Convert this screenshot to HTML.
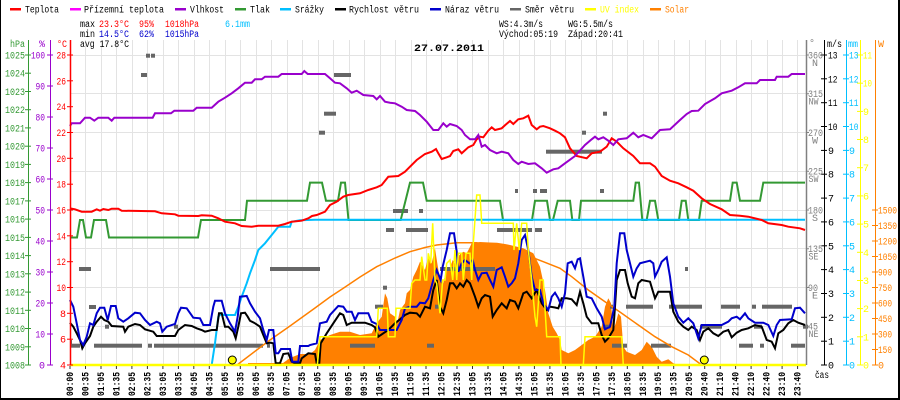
<!DOCTYPE html>
<html><head><meta charset="utf-8">
<style>
html,body{margin:0;padding:0;background:#fff;}
svg{display:block;}
text{font-family:"Liberation Mono","DejaVu Sans Mono",monospace;font-size:10px;}
.b{font-weight:bold;}
</style></head><body>
<svg width="900" height="400" viewBox="0 0 900 400" xmlns="http://www.w3.org/2000/svg">
<rect x="0" y="0" width="900" height="400" fill="#fff"/>
<!-- border -->
<rect x="0" y="0" width="1" height="400" fill="#000"/>
<rect x="898" y="0" width="2" height="400" fill="#000"/>
<rect x="0" y="398" width="900" height="2" fill="#000"/>

<!-- grid -->
<g stroke="#e3e3e3" stroke-width="1">
<line x1="70" y1="55.5" x2="806" y2="55.5"/>
<line x1="70" y1="93.5" x2="806" y2="93.5"/>
<line x1="70" y1="132.5" x2="806" y2="132.5"/>
<line x1="70" y1="171.5" x2="806" y2="171.5"/>
<line x1="70" y1="210.5" x2="806" y2="210.5"/>
<line x1="70" y1="248.5" x2="806" y2="248.5"/>
<line x1="70" y1="287.5" x2="806" y2="287.5"/>
<line x1="70" y1="326.5" x2="806" y2="326.5"/>
<line x1="85.5" y1="40" x2="85.5" y2="365"/><line x1="101.5" y1="40" x2="101.5" y2="365"/><line x1="116.5" y1="40" x2="116.5" y2="365"/><line x1="132.5" y1="40" x2="132.5" y2="365"/><line x1="147.5" y1="40" x2="147.5" y2="365"/><line x1="163.5" y1="40" x2="163.5" y2="365"/><line x1="178.5" y1="40" x2="178.5" y2="365"/><line x1="194.5" y1="40" x2="194.5" y2="365"/><line x1="209.5" y1="40" x2="209.5" y2="365"/><line x1="225.5" y1="40" x2="225.5" y2="365"/><line x1="240.5" y1="40" x2="240.5" y2="365"/><line x1="256.5" y1="40" x2="256.5" y2="365"/><line x1="271.5" y1="40" x2="271.5" y2="365"/><line x1="287.5" y1="40" x2="287.5" y2="365"/><line x1="302.5" y1="40" x2="302.5" y2="365"/><line x1="318.5" y1="40" x2="318.5" y2="365"/><line x1="333.5" y1="40" x2="333.5" y2="365"/><line x1="349.5" y1="40" x2="349.5" y2="365"/><line x1="364.5" y1="40" x2="364.5" y2="365"/><line x1="380.5" y1="40" x2="380.5" y2="365"/><line x1="395.5" y1="40" x2="395.5" y2="365"/><line x1="411.5" y1="40" x2="411.5" y2="365"/><line x1="426.5" y1="40" x2="426.5" y2="365"/><line x1="441.5" y1="40" x2="441.5" y2="365"/><line x1="457.5" y1="40" x2="457.5" y2="365"/><line x1="472.5" y1="40" x2="472.5" y2="365"/><line x1="488.5" y1="40" x2="488.5" y2="365"/><line x1="503.5" y1="40" x2="503.5" y2="365"/><line x1="519.5" y1="40" x2="519.5" y2="365"/><line x1="534.5" y1="40" x2="534.5" y2="365"/><line x1="550.5" y1="40" x2="550.5" y2="365"/><line x1="565.5" y1="40" x2="565.5" y2="365"/><line x1="581.5" y1="40" x2="581.5" y2="365"/><line x1="596.5" y1="40" x2="596.5" y2="365"/><line x1="612.5" y1="40" x2="612.5" y2="365"/><line x1="627.5" y1="40" x2="627.5" y2="365"/><line x1="643.5" y1="40" x2="643.5" y2="365"/><line x1="658.5" y1="40" x2="658.5" y2="365"/><line x1="674.5" y1="40" x2="674.5" y2="365"/><line x1="689.5" y1="40" x2="689.5" y2="365"/><line x1="705.5" y1="40" x2="705.5" y2="365"/><line x1="720.5" y1="40" x2="720.5" y2="365"/><line x1="736.5" y1="40" x2="736.5" y2="365"/><line x1="751.5" y1="40" x2="751.5" y2="365"/><line x1="767.5" y1="40" x2="767.5" y2="365"/><line x1="782.5" y1="40" x2="782.5" y2="365"/><line x1="797.5" y1="40" x2="797.5" y2="365"/>
</g>

<!-- solar fill -->
<polygon fill="#ff8000" points="248,365 248,363 283,363 290,358 300,354 310,354 315,350 320,340 330,335 340,331.7 350,331.7 360,335 371.7,333.3 376.7,323.3 381.7,316.7 385,293.3 387.3,298.3 390,313.3 395,316.7 397.3,323.3 400,310 405,303.3 406.7,293.3 410,290 413.3,276.7 416.7,270 420,261.7 425,270 428.3,256.7 431.7,263.3 435,248.3 437.3,263.3 440,280 443.3,283.3 446.7,266.7 449.3,270 452.7,260 456,265 459.3,255 463.3,251.7 466.7,253.3 469.3,248.3 471.7,243.3 475,242.7 480,242 490,242.5 497,242.7 505,244 510,245 523.3,248.3 533.3,253.3 540,266.7 545,290 548.3,313.3 552.7,326.7 556.7,333.3 560,340 561.7,350 568.3,353.3 575,350 581.7,345 588.3,340 595,336.7 601.7,326.7 605,306.7 608.3,298.3 611,303.3 613.3,330 615.7,323.3 618.3,313.3 621,316.7 623.3,346.7 626.7,351.7 635,355 641.7,350 646.7,341.7 651.7,346.7 656.7,356.7 661.7,361.7 668.3,359.3 673.3,363.3 678.3,365"/>

<!-- wind direction blocks -->
<g fill="#666">
<rect x="146" y="53.7" width="4" height="4"/><rect x="151" y="53.7" width="4" height="4"/>
<rect x="141" y="73" width="6" height="4"/>
<rect x="79" y="267" width="12" height="4"/>
<rect x="89" y="305" width="7" height="4"/>
<rect x="105" y="324.7" width="4" height="4"/>
<rect x="174" y="324.7" width="4" height="4"/>
<rect x="70" y="340" width="2" height="4"/>
<rect x="70" y="343.7" width="10" height="4"/>
<rect x="94" y="343.7" width="48" height="4"/>
<rect x="148" y="343.7" width="4" height="4"/>
<rect x="154" y="343.7" width="109" height="4"/>
<rect x="267" y="343.7" width="3" height="4"/>
<rect x="270" y="267" width="50" height="4"/>
<rect x="334" y="73" width="17" height="4"/>
<rect x="324" y="111.7" width="12" height="4"/>
<rect x="319" y="130.7" width="6" height="4"/>
<rect x="393" y="209" width="15" height="4"/>
<rect x="419" y="209" width="4" height="4"/>
<rect x="386" y="228" width="8" height="4"/>
<rect x="406" y="228" width="22" height="4"/>
<rect x="383" y="285.7" width="4" height="4"/>
<rect x="375" y="304.7" width="8" height="4"/>
<rect x="350" y="343.7" width="25" height="4"/>
<rect x="427" y="343.7" width="7" height="4"/>
<rect x="435" y="304.7" width="5" height="4"/>
<rect x="440" y="267" width="55" height="4"/>
<rect x="497" y="228" width="35" height="4"/>
<rect x="535" y="228" width="7" height="4"/>
<rect x="515" y="189" width="3" height="4"/>
<rect x="533" y="189" width="4" height="4"/>
<rect x="540" y="189" width="7" height="4"/>
<rect x="546" y="149.7" width="56" height="4"/>
<rect x="603" y="111.7" width="4" height="4"/>
<rect x="582" y="130.7" width="4" height="4"/>
<rect x="600" y="189" width="4" height="4"/>
<rect x="685" y="267" width="3" height="4"/>
<rect x="610" y="304.7" width="3" height="4"/>
<rect x="626" y="304.7" width="27" height="4"/>
<rect x="669" y="304.7" width="33" height="4"/>
<rect x="721" y="304.7" width="19" height="4"/>
<rect x="752" y="304.7" width="4" height="4"/>
<rect x="762" y="304.7" width="30" height="4"/>
<rect x="603" y="324.7" width="7" height="4"/>
<rect x="700" y="324.7" width="22" height="4"/>
<rect x="754" y="324.7" width="8" height="4"/>
<rect x="803" y="324.7" width="5" height="4"/>
<rect x="612" y="343.7" width="15" height="4"/>
<rect x="651" y="343.7" width="20" height="4"/>
<rect x="739" y="343.7" width="14" height="4"/>
<rect x="760" y="343.7" width="4" height="4"/>
<rect x="791" y="343.7" width="14" height="4"/>
</g>

<!-- solar theoretical curve -->
<polyline fill="none" stroke="#ff8000" stroke-width="1.5" points="237,365 270,340 290,326 315,308 330,297 343.3,288.3 360,277 376.7,266.7 395,258 410,251.7 425,247.5 436.7,245 456.7,242.7 476.7,242.7 496.7,246.7 510,250 523.3,254 543.3,261.7 560,268.3 571.7,276.7 588.3,290 605,301.7 621.7,313.3 638.3,325 655,336.7 671.7,346.7 688.3,355 701.7,365"/>

<!-- pressure -->
<polyline fill="none" stroke="#339933" stroke-width="2" points="70,237.5 77,237.5 80,220 83,220 86,237.5 91,237.5 94,220 106,220 109,237.5 198,237.5 201,220 245,220 247,200.8 307,200.8 310,182.6 322,182.6 326,200.8 338,200.8 341,182.6 345,182.6 348.5,220 400.7,220 410,182.6 423,182.6 426.7,200.8 500,200.8 503,220 532,220 535,200.8 547,200.8 550,220 553,220 557.7,200.8 570,200.8 572.3,220 579,220 581,200.8 633.3,200.8 635.7,182.6 639,182.6 642.3,220 646.7,220 650,200.8 655,200.8 658.3,220 679,220 681.7,200.8 685.7,200.8 688.3,220 699,220 701.7,200.8 730,200.8 732.7,182.6 736.7,182.6 740,200.8 760,200.8 763.3,182.6 805,182.6"/>

<!-- rain -->
<polyline fill="none" stroke="#00bfff" stroke-width="2" points="70,365 211.7,365 215,343.3 218.3,316.7 221.7,313.3 223.3,315 235,315 238.3,306.7 241.7,296.7 246.7,283.3 250,273.3 255,260 258.3,250 265,243.3 271.7,235 278.3,226.7 290,226.7 291.7,221.7 300,220.3 315,219.7 805,219.7"/>

<!-- temperature -->
<polyline fill="none" stroke="#ff0000" stroke-width="2" points="70,208.3 75,209.3 81.7,211.7 91.7,211.7 96.7,209.3 100,210.7 103.3,209 108.3,210 111.7,208.7 118.3,208.7 121.7,210.7 155,211.3 161.7,213.3 175,214.3 178.3,215.7 198.3,216 201.7,215.3 211.7,215.7 218.3,218.3 225,221.7 235,223.3 241.7,226 251.7,226.7 258.3,225.7 278.3,225.7 285,224 291.7,221.7 301.7,220.7 308.3,218.3 312,216 316.7,215 325,211.7 330,205 336.7,201.7 343.3,196.7 348.3,195 360,193.3 368.3,190 376.7,187.3 381.7,185 388.3,176.7 398.3,176 405,171.7 410,166.7 416.7,160 425,154 431.7,151.7 436,149 438.3,153.3 441.7,159 446.7,157.3 450,156 453.3,151 458.3,149.3 461.7,153.3 468.3,147.3 473.3,145 476.7,139.3 480,136.7 483.3,137.3 488.3,130.7 491.7,127.3 495,130 501.7,128.3 505,125.3 510,121 513.3,124 518.3,119.3 523.3,118.3 528.3,115.7 531.7,125 536.7,129.3 540,126.7 543.3,126 550,128.3 555,130.7 560,133.3 565,137.3 570,148.3 576.7,156 586.7,158.3 591.7,153.3 600,151.7 606.7,146.7 611.7,138.3 616.7,141.7 623.3,148.3 633.3,156 640,163.3 650,163.3 655,166.7 661.7,176 670,180.7 678.3,183.3 686.7,187.3 693.3,190.7 701.7,198.3 710,204 721.7,209.3 730,215 740,215.7 748.3,216.7 761.7,220 768.3,223.3 781.7,225 788.3,226.7 800,228.3 805,230"/>

<!-- humidity -->
<polyline fill="none" stroke="#9900cc" stroke-width="2" points="70,126 71.7,123.3 80,123.3 85,117.7 90,117.7 94.3,120.7 98.3,117.7 108.3,117.7 111.7,120.7 114.3,117.7 152.7,117.7 155,113.3 171,113.3 174.3,110.7 193.3,110.7 196.7,107.7 211.7,107.7 218.3,101.7 225,97.7 231.7,93.3 238.3,88.3 245,82.7 251.7,82.7 255,79.3 261.7,79.3 265,76.7 278.3,76.7 281.7,74 301.7,74 304.3,71 307.7,74 325,74 330,78.3 335,82.7 340,83.3 346.7,88.3 351.7,92.7 356.7,90.7 363.3,95 373.3,96 376.7,99.3 380,96 385,101.7 390,102.7 395,103.3 401.7,106.7 406.7,110 415,111 420,115 426.7,121.7 433.3,130 438.3,130 443.3,123.3 446.7,126.7 450,124 456.7,126 461.7,130 465,135 470,139.3 475,139.3 478.3,135 481.7,146.7 485,145 490,150 496.7,153.3 501.7,151.7 508.3,153.3 513.3,160 518.3,164 521.7,161.7 528.3,164 535,163.3 541.7,168.3 546.7,172.7 553.3,169.3 558.3,168.3 565,163.3 575,156 585,145 591.7,139.3 595,136.7 598.3,139.3 603.3,137.3 608.3,140.7 613.3,145 618.3,139.3 626.7,138.3 633.3,132.7 638.3,137.3 643.3,135 651.7,138.3 660,130 670,129.3 680,120 686.7,114 691.7,111 698.3,110.7 705,104 715,98.3 721.7,93.3 731.7,90.7 738.3,87.3 745,83.3 756.7,83.3 760,80 775,80 776.7,76.7 788.3,76.7 791.7,74 805,74"/>

<!-- wind speed -->
<polyline fill="none" stroke="#000" stroke-width="2" points="70,322.7 73.3,326.7 76.7,333.3 80,340 82.3,348.3 85,343.3 90,336 93.3,326.7 96.7,321.7 101,316.7 104.3,320 108.3,321.7 111.7,326 123.3,326.7 125,331.7 128.3,326.7 135,324 140,325 145,329.3 153.3,331.7 156.7,336 175,336 178.3,330 185,325 191.7,326 196.7,328.3 201.7,330 205,331.7 211.7,330 216.7,330 219,313.3 221.7,313.3 225,326.7 228.3,326.7 233.3,331.7 235.7,338.3 238.3,326.7 241,313.3 245,312.7 247.7,316.7 250,320.7 255,323.3 260,326.7 263.3,335 266.7,343.3 270,342.7 273.3,343.3 275.7,363.3 280,363.3 283.3,354 288.3,353.3 291.7,361.7 295,363.3 300,363.3 301.7,358.3 308.3,353.3 315,354 316.7,363.3 319.3,363.3 320.7,343.3 326.7,333.3 333.3,323.3 340,313.3 343.3,315 346.7,325 351.7,322.7 365,322.7 371.7,325 375,327.3 378.3,336.7 383.3,333.3 388.3,330 395,323.3 400,319.3 405,315 410,312.7 416.7,313.3 420,316.7 425,306.7 430,308.3 433.3,290 436.7,280 440,306.7 443.3,313.3 446.7,300 450,283.3 453.3,283.3 456.7,288.3 460,283.3 463.3,286.7 466.7,280 470,283.3 475,296.7 478.3,306.7 481.7,298.3 485,295 490,296.7 492.7,316.7 496.7,310 501.7,303.3 506.7,308.3 510,300 515,301.7 518.3,308.3 523.3,293.3 526.7,291.7 531.7,298.3 536.7,290 541.7,303.3 546.7,310 550,306.7 555,307.5 558.3,308.3 561.7,298.3 566.7,298.3 571.7,299.3 576.7,305 580,291.7 583.3,303.3 586.7,316.7 591.7,323.3 598.3,323.3 601.7,335 605,341.7 608.3,338.3 613.3,330 615,306.7 616.7,280 620,270 625,270 627.7,283.3 631.7,296.7 635,298.3 638.3,283.3 641.7,280 650,281.7 655,298.3 658.3,291.7 670,291.7 673.3,311.7 678.3,321.7 683.3,326.7 688.3,330 691.7,326.7 696.7,330 700,340 703.3,331.7 708.3,328.3 713.3,333.3 718.3,336 723.3,331.7 728.3,330 731.7,337.3 736.7,332.7 741.7,330 748.3,328.3 755,325 761.7,326.7 766.7,340 771.7,341.7 775,348.3 778.3,333.3 783.3,330 788.3,323.3 793.3,320 798.3,322.7 805,325"/>

<!-- gust -->
<polyline fill="none" stroke="#0000cc" stroke-width="2" points="70,300 73.3,306.7 76.7,323.3 80,340 83.3,345 86.7,336.7 90,323.3 93.3,325 96.7,313.3 100,307.7 104.3,307.7 107.7,320 111,306 115.7,306 118.3,318.3 123.3,321.7 128.3,318.3 135,312.7 140,313.3 145,320 150,325 156.7,321.7 160,323.3 162.3,331.7 166.7,326.7 175,324 178.3,313.3 181,307.7 186.7,308.3 193.3,317.7 200,318.3 203.3,325 210,325 213.3,306.7 215,300.7 221.7,300.7 225,313.3 230,323.3 235,331.7 237.7,316.7 240,296.7 246.7,296 250,303.3 255,311.7 260,318.3 263.3,330 266.7,340 269,330 273.3,330 275.7,353.3 278.3,353.3 281,349 290,349 292.3,361.7 298.3,361.7 300,346 308.3,346 310,345 316.7,343.3 320,323.3 326.7,321.7 330,315 338.3,306 343.3,306.7 346.7,311.7 351.7,311.7 355,320 358.3,313.3 368.3,313.3 371.7,321.7 376.7,324 380,330 396.7,330 401.7,320 405,308.3 410,306.7 416.7,306.7 420,302.7 425,303.3 428.3,298.3 433.3,280 436.7,270 440.7,280 442.7,266.7 446.7,250 450,233.3 454,233.3 456.7,251.7 458.3,271.7 461.7,263.3 465,260 469.3,263.3 472.7,260 475,270 478.3,280 481.7,273.3 486.7,272.7 490,280 493.3,286.7 496.7,270 501.7,267.3 505,276.7 508.3,286.7 511.7,283.3 515,278.3 518.3,263.3 521.7,240 525,235 528.3,250 531.7,276.7 535,290 540,290 543.3,303.3 548.3,310 551.7,296.7 555,292.7 558.3,298.3 561.7,306.7 565,293.3 567.7,263.3 571.7,261.7 575,268.3 577.7,259.3 580,258.3 583.3,276.7 586.7,296.7 591.7,298.3 596.7,308.3 601.7,316.7 605,329.3 610,326.7 614.3,306.7 616.7,263.3 620,233.3 624.3,233.3 626.7,250 630,263.3 633.3,276.7 636.7,268.3 640,263.3 650,260.7 653.3,263.3 655,276.7 658.3,270 661.7,261.7 666.7,257.3 670,276.7 673.3,303.3 678.3,316.7 683.3,322.7 688.3,318.3 693.3,323.3 698.3,338.3 701.7,325 721.7,325 725,323.3 728.3,321.7 731.7,318.3 736.7,316.7 740,319.3 745,313.3 748.3,318.3 755,322.7 763.3,322.7 768.3,325 773.3,336 776.7,325 780,320 791.7,319.3 795,308.3 800,307.7 805,313.3"/>

<!-- UV -->
<polyline fill="none" stroke="#ffff00" stroke-width="1.5" points="70,365 317.3,365 320,336.7 376.7,336.7 378.3,308.3 387.3,308.3 388.3,336.7 395,336.7 396,308.3 410,308.3 411.7,283.3 415,280 420,280 421.7,256.7 425,280 426.7,280 428.3,253.3 430.7,263.3 432.7,223.3 435,280 436.7,283.3 440,313.3 442.7,280 445,280 446.7,263.3 450,260 452.7,280 455,250 456.7,280 458.3,253.3 461.7,253.3 463.3,280 466,253.3 470,253.3 471.7,280 473.3,243.3 476.7,195 480,195 481.7,223.3 513.3,223.3 514,250 516.7,223.3 519.3,250 521.7,223.3 526.7,223.3 528.3,250 531.7,280 535,316.7 536.7,326.7 540,280 543.3,280 546.7,336.7 560,336.7 561,365 583.3,365 585,336.7 621.7,336.7 623.3,365 805,365"/>

<!-- bottom axis -->
<line x1="70" y1="365" x2="806" y2="365" stroke="#ffff00" stroke-width="2.5"/>
<circle cx="232.3" cy="360" r="4" fill="#ffff00" stroke="#000" stroke-width="1"/>
<circle cx="704.3" cy="360" r="4" fill="#ffff00" stroke="#000" stroke-width="1"/>

<!-- x ticks -->
<g stroke="#333" stroke-width="1">
<line x1="70" y1="366" x2="70" y2="369"/><line x1="85.5" y1="366" x2="85.5" y2="369"/><line x1="101" y1="366" x2="101" y2="369"/><line x1="116.4" y1="366" x2="116.4" y2="369"/><line x1="131.9" y1="366" x2="131.9" y2="369"/><line x1="147.4" y1="366" x2="147.4" y2="369"/><line x1="162.9" y1="366" x2="162.9" y2="369"/><line x1="178.4" y1="366" x2="178.4" y2="369"/><line x1="193.8" y1="366" x2="193.8" y2="369"/><line x1="209.3" y1="366" x2="209.3" y2="369"/><line x1="224.8" y1="366" x2="224.8" y2="369"/><line x1="240.3" y1="366" x2="240.3" y2="369"/><line x1="255.8" y1="366" x2="255.8" y2="369"/><line x1="271.2" y1="366" x2="271.2" y2="369"/><line x1="286.7" y1="366" x2="286.7" y2="369"/><line x1="302.2" y1="366" x2="302.2" y2="369"/><line x1="317.7" y1="366" x2="317.7" y2="369"/><line x1="333.2" y1="366" x2="333.2" y2="369"/><line x1="348.6" y1="366" x2="348.6" y2="369"/><line x1="364.1" y1="366" x2="364.1" y2="369"/><line x1="379.6" y1="366" x2="379.6" y2="369"/><line x1="395.1" y1="366" x2="395.1" y2="369"/><line x1="410.6" y1="366" x2="410.6" y2="369"/><line x1="426" y1="366" x2="426" y2="369"/><line x1="441.5" y1="366" x2="441.5" y2="369"/><line x1="457" y1="366" x2="457" y2="369"/><line x1="472.5" y1="366" x2="472.5" y2="369"/><line x1="488" y1="366" x2="488" y2="369"/><line x1="503.4" y1="366" x2="503.4" y2="369"/><line x1="518.9" y1="366" x2="518.9" y2="369"/><line x1="534.4" y1="366" x2="534.4" y2="369"/><line x1="549.9" y1="366" x2="549.9" y2="369"/><line x1="565.4" y1="366" x2="565.4" y2="369"/><line x1="580.8" y1="366" x2="580.8" y2="369"/><line x1="596.3" y1="366" x2="596.3" y2="369"/><line x1="611.8" y1="366" x2="611.8" y2="369"/><line x1="627.3" y1="366" x2="627.3" y2="369"/><line x1="642.8" y1="366" x2="642.8" y2="369"/><line x1="658.2" y1="366" x2="658.2" y2="369"/><line x1="673.7" y1="366" x2="673.7" y2="369"/><line x1="689.2" y1="366" x2="689.2" y2="369"/><line x1="704.7" y1="366" x2="704.7" y2="369"/><line x1="720.2" y1="366" x2="720.2" y2="369"/><line x1="735.6" y1="366" x2="735.6" y2="369"/><line x1="751.1" y1="366" x2="751.1" y2="369"/><line x1="766.6" y1="366" x2="766.6" y2="369"/><line x1="782.1" y1="366" x2="782.1" y2="369"/><line x1="797.6" y1="366" x2="797.6" y2="369"/>
</g>

<!-- x labels -->
<g class="b" fill="#000" text-anchor="middle" font-size="9">
<text transform="translate(73,384) rotate(-90)" textLength="24" lengthAdjust="spacingAndGlyphs">00:00</text>
<text transform="translate(88.5,384) rotate(-90)" textLength="24" lengthAdjust="spacingAndGlyphs">00:35</text>
<text transform="translate(104,384) rotate(-90)" textLength="24" lengthAdjust="spacingAndGlyphs">01:05</text>
<text transform="translate(119.4,384) rotate(-90)" textLength="24" lengthAdjust="spacingAndGlyphs">01:35</text>
<text transform="translate(134.9,384) rotate(-90)" textLength="24" lengthAdjust="spacingAndGlyphs">02:05</text>
<text transform="translate(150.4,384) rotate(-90)" textLength="24" lengthAdjust="spacingAndGlyphs">02:35</text>
<text transform="translate(165.9,384) rotate(-90)" textLength="24" lengthAdjust="spacingAndGlyphs">03:05</text>
<text transform="translate(181.4,384) rotate(-90)" textLength="24" lengthAdjust="spacingAndGlyphs">03:35</text>
<text transform="translate(196.8,384) rotate(-90)" textLength="24" lengthAdjust="spacingAndGlyphs">04:05</text>
<text transform="translate(212.3,384) rotate(-90)" textLength="24" lengthAdjust="spacingAndGlyphs">04:35</text>
<text transform="translate(227.8,384) rotate(-90)" textLength="24" lengthAdjust="spacingAndGlyphs">05:05</text>
<text transform="translate(243.3,384) rotate(-90)" textLength="24" lengthAdjust="spacingAndGlyphs">05:35</text>
<text transform="translate(258.8,384) rotate(-90)" textLength="24" lengthAdjust="spacingAndGlyphs">06:05</text>
<text transform="translate(274.2,384) rotate(-90)" textLength="24" lengthAdjust="spacingAndGlyphs">06:35</text>
<text transform="translate(289.7,384) rotate(-90)" textLength="24" lengthAdjust="spacingAndGlyphs">07:05</text>
<text transform="translate(305.2,384) rotate(-90)" textLength="24" lengthAdjust="spacingAndGlyphs">07:35</text>
<text transform="translate(320.7,384) rotate(-90)" textLength="24" lengthAdjust="spacingAndGlyphs">08:05</text>
<text transform="translate(336.2,384) rotate(-90)" textLength="24" lengthAdjust="spacingAndGlyphs">08:35</text>
<text transform="translate(351.6,384) rotate(-90)" textLength="24" lengthAdjust="spacingAndGlyphs">09:05</text>
<text transform="translate(367.1,384) rotate(-90)" textLength="24" lengthAdjust="spacingAndGlyphs">09:35</text>
<text transform="translate(382.6,384) rotate(-90)" textLength="24" lengthAdjust="spacingAndGlyphs">10:05</text>
<text transform="translate(398.1,384) rotate(-90)" textLength="24" lengthAdjust="spacingAndGlyphs">10:35</text>
<text transform="translate(413.6,384) rotate(-90)" textLength="24" lengthAdjust="spacingAndGlyphs">11:05</text>
<text transform="translate(429,384) rotate(-90)" textLength="24" lengthAdjust="spacingAndGlyphs">11:35</text>
<text transform="translate(444.5,384) rotate(-90)" textLength="24" lengthAdjust="spacingAndGlyphs">12:05</text>
<text transform="translate(460,384) rotate(-90)" textLength="24" lengthAdjust="spacingAndGlyphs">12:35</text>
<text transform="translate(475.5,384) rotate(-90)" textLength="24" lengthAdjust="spacingAndGlyphs">13:05</text>
<text transform="translate(491,384) rotate(-90)" textLength="24" lengthAdjust="spacingAndGlyphs">13:35</text>
<text transform="translate(506.4,384) rotate(-90)" textLength="24" lengthAdjust="spacingAndGlyphs">14:05</text>
<text transform="translate(521.9,384) rotate(-90)" textLength="24" lengthAdjust="spacingAndGlyphs">14:35</text>
<text transform="translate(537.4,384) rotate(-90)" textLength="24" lengthAdjust="spacingAndGlyphs">15:05</text>
<text transform="translate(552.9,384) rotate(-90)" textLength="24" lengthAdjust="spacingAndGlyphs">15:35</text>
<text transform="translate(568.4,384) rotate(-90)" textLength="24" lengthAdjust="spacingAndGlyphs">16:05</text>
<text transform="translate(583.8,384) rotate(-90)" textLength="24" lengthAdjust="spacingAndGlyphs">16:35</text>
<text transform="translate(599.3,384) rotate(-90)" textLength="24" lengthAdjust="spacingAndGlyphs">17:05</text>
<text transform="translate(614.8,384) rotate(-90)" textLength="24" lengthAdjust="spacingAndGlyphs">17:35</text>
<text transform="translate(630.3,384) rotate(-90)" textLength="24" lengthAdjust="spacingAndGlyphs">18:05</text>
<text transform="translate(645.8,384) rotate(-90)" textLength="24" lengthAdjust="spacingAndGlyphs">18:35</text>
<text transform="translate(661.2,384) rotate(-90)" textLength="24" lengthAdjust="spacingAndGlyphs">19:05</text>
<text transform="translate(676.7,384) rotate(-90)" textLength="24" lengthAdjust="spacingAndGlyphs">19:35</text>
<text transform="translate(692.2,384) rotate(-90)" textLength="24" lengthAdjust="spacingAndGlyphs">20:05</text>
<text transform="translate(707.7,384) rotate(-90)" textLength="24" lengthAdjust="spacingAndGlyphs">20:40</text>
<text transform="translate(723.2,384) rotate(-90)" textLength="24" lengthAdjust="spacingAndGlyphs">21:10</text>
<text transform="translate(738.6,384) rotate(-90)" textLength="24" lengthAdjust="spacingAndGlyphs">21:40</text>
<text transform="translate(754.1,384) rotate(-90)" textLength="24" lengthAdjust="spacingAndGlyphs">22:10</text>
<text transform="translate(769.6,384) rotate(-90)" textLength="24" lengthAdjust="spacingAndGlyphs">22:40</text>
<text transform="translate(785.1,384) rotate(-90)" textLength="24" lengthAdjust="spacingAndGlyphs">23:10</text>
<text transform="translate(800.6,384) rotate(-90)" textLength="24" lengthAdjust="spacingAndGlyphs">23:40</text>
</g>
<text x="815" y="378" fill="#000" textLength="14" lengthAdjust="spacingAndGlyphs">čas</text>

<!-- left axes -->
<line x1="28.5" y1="40" x2="28.5" y2="365" stroke="#339933" stroke-width="1"/>
<line x1="50.5" y1="40" x2="50.5" y2="365" stroke="#9900cc" stroke-width="1"/>
<line x1="70.5" y1="40" x2="70.5" y2="365" stroke="#ff0000" stroke-width="1.5"/>
<g stroke="#339933"><line x1="25" y1="55" x2="31" y2="55"/><line x1="25" y1="73.2" x2="31" y2="73.2"/><line x1="25" y1="91.5" x2="31" y2="91.5"/><line x1="25" y1="109.7" x2="31" y2="109.7"/><line x1="25" y1="127.9" x2="31" y2="127.9"/><line x1="25" y1="146.2" x2="31" y2="146.2"/><line x1="25" y1="164.4" x2="31" y2="164.4"/><line x1="25" y1="182.6" x2="31" y2="182.6"/><line x1="25" y1="200.9" x2="31" y2="200.9"/><line x1="25" y1="219.1" x2="31" y2="219.1"/><line x1="25" y1="237.4" x2="31" y2="237.4"/><line x1="25" y1="255.6" x2="31" y2="255.6"/><line x1="25" y1="273.8" x2="31" y2="273.8"/><line x1="25" y1="292.1" x2="31" y2="292.1"/><line x1="25" y1="310.3" x2="31" y2="310.3"/><line x1="25" y1="328.5" x2="31" y2="328.5"/><line x1="25" y1="346.8" x2="31" y2="346.8"/><line x1="25" y1="365" x2="31" y2="365"/></g>
<g stroke="#9900cc"><line x1="47" y1="55" x2="53" y2="55"/><line x1="47" y1="86" x2="53" y2="86"/><line x1="47" y1="117" x2="53" y2="117"/><line x1="47" y1="148" x2="53" y2="148"/><line x1="47" y1="179" x2="53" y2="179"/><line x1="47" y1="210" x2="53" y2="210"/><line x1="47" y1="241" x2="53" y2="241"/><line x1="47" y1="272" x2="53" y2="272"/><line x1="47" y1="303" x2="53" y2="303"/><line x1="47" y1="334" x2="53" y2="334"/><line x1="47" y1="365" x2="53" y2="365"/></g>
<g stroke="#ff0000"><line x1="67" y1="55" x2="73" y2="55"/><line x1="67" y1="80.8" x2="73" y2="80.8"/><line x1="67" y1="106.7" x2="73" y2="106.7"/><line x1="67" y1="132.5" x2="73" y2="132.5"/><line x1="67" y1="158.3" x2="73" y2="158.3"/><line x1="67" y1="184.2" x2="73" y2="184.2"/><line x1="67" y1="210" x2="73" y2="210"/><line x1="67" y1="235.8" x2="73" y2="235.8"/><line x1="67" y1="261.7" x2="73" y2="261.7"/><line x1="67" y1="287.5" x2="73" y2="287.5"/><line x1="67" y1="313.3" x2="73" y2="313.3"/><line x1="67" y1="339.2" x2="73" y2="339.2"/><line x1="67" y1="365" x2="73" y2="365"/></g>

<g fill="#339933" text-anchor="end">
<text x="25" y="47" textLength="15" lengthAdjust="spacingAndGlyphs">hPa</text>
<text x="25" y="58.5" textLength="20" lengthAdjust="spacingAndGlyphs">1025</text>
<text x="25" y="76.7" textLength="20" lengthAdjust="spacingAndGlyphs">1024</text>
<text x="25" y="95" textLength="20" lengthAdjust="spacingAndGlyphs">1023</text>
<text x="25" y="113.2" textLength="20" lengthAdjust="spacingAndGlyphs">1022</text>
<text x="25" y="131.4" textLength="20" lengthAdjust="spacingAndGlyphs">1021</text>
<text x="25" y="149.7" textLength="20" lengthAdjust="spacingAndGlyphs">1020</text>
<text x="25" y="167.9" textLength="20" lengthAdjust="spacingAndGlyphs">1019</text>
<text x="25" y="186.1" textLength="20" lengthAdjust="spacingAndGlyphs">1018</text>
<text x="25" y="204.4" textLength="20" lengthAdjust="spacingAndGlyphs">1017</text>
<text x="25" y="222.6" textLength="20" lengthAdjust="spacingAndGlyphs">1016</text>
<text x="25" y="240.9" textLength="20" lengthAdjust="spacingAndGlyphs">1015</text>
<text x="25" y="259.1" textLength="20" lengthAdjust="spacingAndGlyphs">1014</text>
<text x="25" y="277.3" textLength="20" lengthAdjust="spacingAndGlyphs">1013</text>
<text x="25" y="295.6" textLength="20" lengthAdjust="spacingAndGlyphs">1012</text>
<text x="25" y="313.8" textLength="20" lengthAdjust="spacingAndGlyphs">1011</text>
<text x="25" y="332" textLength="20" lengthAdjust="spacingAndGlyphs">1010</text>
<text x="25" y="350.3" textLength="20" lengthAdjust="spacingAndGlyphs">1009</text>
<text x="25" y="368.5" textLength="20" lengthAdjust="spacingAndGlyphs">1008</text>
</g>
<g fill="#9900cc" text-anchor="end">
<text x="45" y="47">%</text>
<text x="45" y="58.5" textLength="14" lengthAdjust="spacingAndGlyphs">100</text>
<text x="45" y="89.5" textLength="9.5" lengthAdjust="spacingAndGlyphs">90</text>
<text x="45" y="120.5" textLength="9.5" lengthAdjust="spacingAndGlyphs">80</text>
<text x="45" y="151.5" textLength="9.5" lengthAdjust="spacingAndGlyphs">70</text>
<text x="45" y="182.5" textLength="9.5" lengthAdjust="spacingAndGlyphs">60</text>
<text x="45" y="213.5" textLength="9.5" lengthAdjust="spacingAndGlyphs">50</text>
<text x="45" y="244.5" textLength="9.5" lengthAdjust="spacingAndGlyphs">40</text>
<text x="45" y="275.5" textLength="9.5" lengthAdjust="spacingAndGlyphs">30</text>
<text x="45" y="306.5" textLength="9.5" lengthAdjust="spacingAndGlyphs">20</text>
<text x="45" y="337.5" textLength="9.5" lengthAdjust="spacingAndGlyphs">10</text>
<text x="45" y="368.5">0</text>
</g>
<g fill="#ff0000" text-anchor="end">
<text x="67" y="47" textLength="10" lengthAdjust="spacingAndGlyphs">°C</text>
<text x="66" y="58.5" textLength="9.5" lengthAdjust="spacingAndGlyphs">28</text>
<text x="66" y="84.3" textLength="9.5" lengthAdjust="spacingAndGlyphs">26</text>
<text x="66" y="110.2" textLength="9.5" lengthAdjust="spacingAndGlyphs">24</text>
<text x="66" y="136" textLength="9.5" lengthAdjust="spacingAndGlyphs">22</text>
<text x="66" y="161.8" textLength="9.5" lengthAdjust="spacingAndGlyphs">20</text>
<text x="66" y="187.7" textLength="9.5" lengthAdjust="spacingAndGlyphs">18</text>
<text x="66" y="213.5" textLength="9.5" lengthAdjust="spacingAndGlyphs">16</text>
<text x="66" y="239.3" textLength="9.5" lengthAdjust="spacingAndGlyphs">14</text>
<text x="66" y="265.2" textLength="9.5" lengthAdjust="spacingAndGlyphs">12</text>
<text x="66" y="291" textLength="9.5" lengthAdjust="spacingAndGlyphs">10</text>
<text x="66" y="316.8">8</text>
<text x="66" y="342.7">6</text>
<text x="66" y="368.5">4</text>
</g>

<!-- right axes -->
<line x1="806.5" y1="40" x2="806.5" y2="365" stroke="#808080" stroke-width="1.5"/>
<line x1="824.5" y1="40" x2="824.5" y2="365" stroke="#000" stroke-width="1"/>
<line x1="846.5" y1="40" x2="846.5" y2="365" stroke="#00bfff" stroke-width="1"/>
<line x1="860.5" y1="40" x2="860.5" y2="365" stroke="#ffff00" stroke-width="1"/>
<line x1="875.5" y1="40" x2="875.5" y2="365" stroke="#ff8000" stroke-width="1"/>
<g stroke="#808080"><line x1="806" y1="55" x2="809" y2="55"/><line x1="806" y1="93.75" x2="809" y2="93.75"/><line x1="806" y1="132.5" x2="809" y2="132.5"/><line x1="806" y1="171.25" x2="809" y2="171.25"/><line x1="806" y1="210" x2="809" y2="210"/><line x1="806" y1="248.75" x2="809" y2="248.75"/><line x1="806" y1="287.5" x2="809" y2="287.5"/><line x1="806" y1="326.25" x2="809" y2="326.25"/></g>
<g stroke="#000"><line x1="821" y1="55" x2="827" y2="55"/><line x1="821" y1="78.8" x2="827" y2="78.8"/><line x1="821" y1="102.7" x2="827" y2="102.7"/><line x1="821" y1="126.5" x2="827" y2="126.5"/><line x1="821" y1="150.4" x2="827" y2="150.4"/><line x1="821" y1="174.2" x2="827" y2="174.2"/><line x1="821" y1="198.1" x2="827" y2="198.1"/><line x1="821" y1="221.9" x2="827" y2="221.9"/><line x1="821" y1="245.8" x2="827" y2="245.8"/><line x1="821" y1="269.6" x2="827" y2="269.6"/><line x1="821" y1="293.5" x2="827" y2="293.5"/><line x1="821" y1="317.3" x2="827" y2="317.3"/><line x1="821" y1="341.2" x2="827" y2="341.2"/><line x1="821" y1="365" x2="827" y2="365"/></g>
<g stroke="#00bfff"><line x1="843" y1="55" x2="849" y2="55"/><line x1="843" y1="78.8" x2="849" y2="78.8"/><line x1="843" y1="102.7" x2="849" y2="102.7"/><line x1="843" y1="126.5" x2="849" y2="126.5"/><line x1="843" y1="150.4" x2="849" y2="150.4"/><line x1="843" y1="174.2" x2="849" y2="174.2"/><line x1="843" y1="198.1" x2="849" y2="198.1"/><line x1="843" y1="221.9" x2="849" y2="221.9"/><line x1="843" y1="245.8" x2="849" y2="245.8"/><line x1="843" y1="269.6" x2="849" y2="269.6"/><line x1="843" y1="293.5" x2="849" y2="293.5"/><line x1="843" y1="317.3" x2="849" y2="317.3"/><line x1="843" y1="341.2" x2="849" y2="341.2"/><line x1="843" y1="365" x2="849" y2="365"/></g>
<g stroke="#ffff00"><line x1="857" y1="55" x2="863" y2="55"/><line x1="857" y1="83.2" x2="863" y2="83.2"/><line x1="857" y1="111.4" x2="863" y2="111.4"/><line x1="857" y1="139.5" x2="863" y2="139.5"/><line x1="857" y1="167.7" x2="863" y2="167.7"/><line x1="857" y1="195.9" x2="863" y2="195.9"/><line x1="857" y1="224.1" x2="863" y2="224.1"/><line x1="857" y1="252.3" x2="863" y2="252.3"/><line x1="857" y1="280.5" x2="863" y2="280.5"/><line x1="857" y1="308.6" x2="863" y2="308.6"/><line x1="857" y1="336.8" x2="863" y2="336.8"/><line x1="857" y1="365" x2="863" y2="365"/></g>
<g stroke="#ff8000"><line x1="872" y1="210" x2="878" y2="210"/><line x1="872" y1="225.5" x2="878" y2="225.5"/><line x1="872" y1="241" x2="878" y2="241"/><line x1="872" y1="256.5" x2="878" y2="256.5"/><line x1="872" y1="272" x2="878" y2="272"/><line x1="872" y1="287.5" x2="878" y2="287.5"/><line x1="872" y1="303" x2="878" y2="303"/><line x1="872" y1="318.5" x2="878" y2="318.5"/><line x1="872" y1="334" x2="878" y2="334"/><line x1="872" y1="349.5" x2="878" y2="349.5"/><line x1="872" y1="365" x2="878" y2="365"/></g>

<g fill="#808080">
<text x="809" y="46">°</text>
<text x="808" y="58.5" textLength="15" lengthAdjust="spacingAndGlyphs">360</text><text x="815" y="66" text-anchor="middle">N</text>
<text x="808" y="97.2" textLength="15" lengthAdjust="spacingAndGlyphs">315</text><text x="813.5" y="104.7" text-anchor="middle" textLength="10" lengthAdjust="spacingAndGlyphs">NW</text>
<text x="808" y="136" textLength="15" lengthAdjust="spacingAndGlyphs">270</text><text x="815" y="143.5" text-anchor="middle">W</text>
<text x="808" y="174.7" textLength="15" lengthAdjust="spacingAndGlyphs">225</text><text x="813.5" y="182.2" text-anchor="middle" textLength="10" lengthAdjust="spacingAndGlyphs">SW</text>
<text x="808" y="213.5" textLength="15" lengthAdjust="spacingAndGlyphs">180</text><text x="815" y="221" text-anchor="middle">S</text>
<text x="808" y="252.2" textLength="15" lengthAdjust="spacingAndGlyphs">135</text><text x="813.5" y="259.7" text-anchor="middle" textLength="10" lengthAdjust="spacingAndGlyphs">SE</text>
<text x="808" y="291" textLength="10" lengthAdjust="spacingAndGlyphs">90</text><text x="815" y="298.5" text-anchor="middle">E</text>
<text x="808" y="329.7" textLength="10" lengthAdjust="spacingAndGlyphs">45</text><text x="813.5" y="337.2" text-anchor="middle" textLength="10" lengthAdjust="spacingAndGlyphs">NE</text>
</g>
<g fill="#000">
<text x="827" y="47" textLength="15" lengthAdjust="spacingAndGlyphs">m/s</text>
<text x="828" y="58.5" textLength="9.5" lengthAdjust="spacingAndGlyphs">13</text>
<text x="828" y="82.3" textLength="9.5" lengthAdjust="spacingAndGlyphs">12</text>
<text x="828" y="106.2" textLength="9.5" lengthAdjust="spacingAndGlyphs">11</text>
<text x="828" y="130" textLength="9.5" lengthAdjust="spacingAndGlyphs">10</text>
<text x="828" y="153.9">9</text><text x="828" y="177.7">8</text><text x="828" y="201.6">7</text><text x="828" y="225.4">6</text><text x="828" y="249.3">5</text><text x="828" y="273.1">4</text><text x="828" y="297">3</text><text x="828" y="320.8">2</text><text x="828" y="344.7">1</text><text x="828" y="368.5">0</text>
</g>
<g fill="#00bfff">
<text x="848" y="47" textLength="10" lengthAdjust="spacingAndGlyphs">mm</text>
<text x="849" y="58.5" textLength="9.5" lengthAdjust="spacingAndGlyphs">13</text>
<text x="849" y="82.3" textLength="9.5" lengthAdjust="spacingAndGlyphs">12</text>
<text x="849" y="106.2" textLength="9.5" lengthAdjust="spacingAndGlyphs">11</text>
<text x="849" y="130" textLength="9.5" lengthAdjust="spacingAndGlyphs">10</text>
<text x="849" y="153.9">9</text><text x="849" y="177.7">8</text><text x="849" y="201.6">7</text><text x="849" y="225.4">6</text><text x="849" y="249.3">5</text><text x="849" y="273.1">4</text><text x="849" y="297">3</text><text x="849" y="320.8">2</text><text x="849" y="344.7">1</text><text x="849" y="368.5">0</text>
</g>
<g fill="#ffff00">
<text x="863" y="58.5" textLength="9" lengthAdjust="spacingAndGlyphs">11</text>
<text x="863" y="86.7" textLength="9" lengthAdjust="spacingAndGlyphs">10</text>
<text x="863" y="114.9">9</text><text x="863" y="143">8</text><text x="863" y="171.2">7</text><text x="863" y="199.4">6</text><text x="863" y="227.6">5</text><text x="863" y="255.8">4</text><text x="863" y="284">3</text><text x="863" y="312.1">2</text><text x="863" y="340.3">1</text><text x="863" y="368.5">0</text>
</g>
<g fill="#ff8000">
<text x="878" y="47">W</text>
<text x="878" y="213.5" textLength="19" lengthAdjust="spacingAndGlyphs">1500</text>
<text x="878" y="229" textLength="19" lengthAdjust="spacingAndGlyphs">1350</text>
<text x="878" y="244.5" textLength="19" lengthAdjust="spacingAndGlyphs">1200</text>
<text x="878" y="260" textLength="19" lengthAdjust="spacingAndGlyphs">1050</text>
<text x="878" y="275.5" textLength="14" lengthAdjust="spacingAndGlyphs">900</text>
<text x="878" y="291" textLength="14" lengthAdjust="spacingAndGlyphs">750</text>
<text x="878" y="306.5" textLength="14" lengthAdjust="spacingAndGlyphs">600</text>
<text x="878" y="322" textLength="14" lengthAdjust="spacingAndGlyphs">450</text>
<text x="878" y="337.5" textLength="14" lengthAdjust="spacingAndGlyphs">300</text>
<text x="878" y="353" textLength="14" lengthAdjust="spacingAndGlyphs">150</text>
<text x="878" y="368.5">0</text>
</g>

<!-- legend -->
<g>
<rect x="10" y="8" width="11" height="2.5" fill="#ff0000"/>
<rect x="70" y="8" width="11" height="2.5" fill="#ff00ff"/>
<rect x="175" y="8" width="11" height="2.5" fill="#9900cc"/>
<rect x="235" y="8" width="11" height="2.5" fill="#339933"/>
<rect x="280" y="8" width="11" height="2.5" fill="#00bfff"/>
<rect x="335" y="8" width="11" height="2.5" fill="#000"/>
<rect x="430" y="8" width="11" height="2.5" fill="#0000cc"/>
<rect x="510" y="8" width="11" height="2.5" fill="#666"/>
<rect x="585" y="8" width="11" height="2.5" fill="#ffff00"/>
<rect x="650" y="8" width="11" height="2.5" fill="#ff8000"/>
</g>
<g fill="#000">
<text x="25" y="12.5" textLength="34" lengthAdjust="spacingAndGlyphs">Teplota</text>
<text x="84" y="12.5" textLength="80" lengthAdjust="spacingAndGlyphs">Přízemní teplota</text>
<text x="190" y="12.5" textLength="34" lengthAdjust="spacingAndGlyphs">Vlhkost</text>
<text x="250" y="12.5" textLength="20" lengthAdjust="spacingAndGlyphs">Tlak</text>
<text x="295" y="12.5" textLength="29" lengthAdjust="spacingAndGlyphs">Srážky</text>
<text x="349" y="12.5" textLength="70" lengthAdjust="spacingAndGlyphs">Rychlost větru</text>
<text x="445" y="12.5" textLength="54" lengthAdjust="spacingAndGlyphs">Náraz větru</text>
<text x="525" y="12.5" textLength="49" lengthAdjust="spacingAndGlyphs">Směr větru</text>
</g>
<text x="600" y="12.5" fill="#ffff00" textLength="39" lengthAdjust="spacingAndGlyphs">UV index</text>
<text x="665" y="12.5" fill="#ff8000" textLength="24" lengthAdjust="spacingAndGlyphs">Solar</text>

<!-- info -->
<text x="80" y="27" fill="#000" textLength="15" lengthAdjust="spacingAndGlyphs">max</text>
<text x="99" y="27" fill="#ff0000" textLength="30" lengthAdjust="spacingAndGlyphs">23.3°C</text>
<text x="139" y="27" fill="#ff0000" textLength="15" lengthAdjust="spacingAndGlyphs">95%</text>
<text x="165" y="27" fill="#ff0000" textLength="34" lengthAdjust="spacingAndGlyphs">1018hPa</text>
<text x="225" y="27" fill="#00bfff" textLength="25" lengthAdjust="spacingAndGlyphs">6.1mm</text>
<text x="80" y="37" fill="#000" textLength="15" lengthAdjust="spacingAndGlyphs">min</text>
<text x="99" y="37" fill="#0000cc" textLength="30" lengthAdjust="spacingAndGlyphs">14.5°C</text>
<text x="139" y="37" fill="#0000cc" textLength="15" lengthAdjust="spacingAndGlyphs">62%</text>
<text x="165" y="37" fill="#0000cc" textLength="34" lengthAdjust="spacingAndGlyphs">1015hPa</text>
<text x="80" y="47" fill="#000" textLength="49" lengthAdjust="spacingAndGlyphs">avg 17.8°C</text>
<text x="499" y="27" fill="#000" textLength="44" lengthAdjust="spacingAndGlyphs">WS:4.3m/s</text>
<text x="568" y="27" fill="#000" textLength="45" lengthAdjust="spacingAndGlyphs">WG:5.5m/s</text>
<text x="499" y="37" fill="#000" textLength="59" lengthAdjust="spacingAndGlyphs">Východ:05:19</text>
<text x="568" y="37" fill="#000" textLength="55" lengthAdjust="spacingAndGlyphs">Západ:20:41</text>
<text x="414" y="51" fill="#000" class="b" font-size="12" textLength="70" lengthAdjust="spacingAndGlyphs">27.07.2011</text>
</svg>
</body></html>
